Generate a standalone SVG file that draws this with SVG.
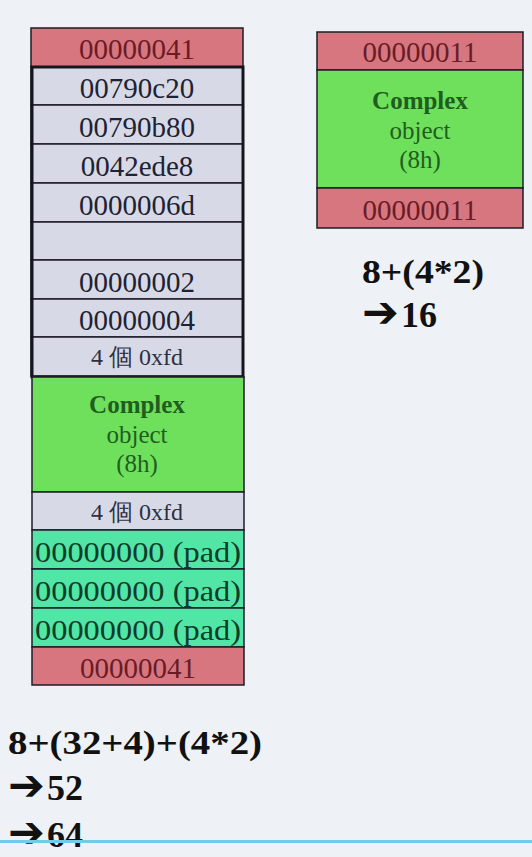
<svg xmlns="http://www.w3.org/2000/svg" width="532" height="857" viewBox="0 0 532 857">
<style>
.cell{stroke:#1c1c28;stroke-width:1.5}
.red{fill:#d8767f}
.lav{fill:#d7dae6}
.grn{fill:#6fe05c}
.pad{fill:#52e6a6}
.t{font-family:"Liberation Serif","Times New Roman",serif;text-anchor:middle}
.tr{fill:#6a1c26;font-size:29px}
.tl{fill:#1f2233;font-size:29px}
.tg{fill:#1f5e1f;font-size:25px}
.tp{fill:#103c2a;font-size:29px}
.sm{fill:#2e3040;font-size:24px}
.calc{font-family:"Liberation Serif","Times New Roman",serif;font-weight:bold;fill:#111;font-size:33px}
.arr{font-family:"DejaVu Sans",sans-serif;font-weight:bold}
</style>
<rect x="0" y="0" width="532" height="857" fill="#eef1f6"/>

<g id="left-column">
<g id="l-head"><rect class="cell red" x="31" y="28" width="212" height="39"/><text class="t tr" x="137" y="59">00000041</text></g>
<g id="l-r1"><rect class="cell lav" x="31" y="67" width="212" height="38"/><text class="t tl" x="137" y="98">00790c20</text></g>
<g id="l-r2"><rect class="cell lav" x="31" y="105" width="212" height="39"/><text class="t tl" x="137" y="137">00790b80</text></g>
<g id="l-r3"><rect class="cell lav" x="31" y="144" width="212" height="39"/><text class="t tl" x="137" y="176">0042ede8</text></g>
<g id="l-r4"><rect class="cell lav" x="31" y="183" width="212" height="39"/><text class="t tl" x="137" y="215">0000006d</text></g>
<g id="l-r5"><rect class="cell lav" x="31" y="222" width="212" height="38"/></g>
<g id="l-r6"><rect class="cell lav" x="31" y="260" width="212" height="39"/><text class="t tl" x="137" y="292">00000002</text></g>
<g id="l-r7"><rect class="cell lav" x="31" y="299" width="212" height="38"/><text class="t tl" x="137" y="330">00000004</text></g>
<g id="l-r8"><rect class="cell lav" x="31" y="337" width="212" height="39"/><text class="t sm" x="137" y="365">4 個 0xfd</text></g>
<rect id="l-frame" x="32" y="67" width="211" height="310" fill="none" stroke="#15151f" stroke-width="3"/>
<g id="l-obj"><rect class="cell grn" x="32" y="377" width="212" height="115"/>
<text class="t tg" x="137" y="413" font-weight="bold">Complex</text>
<text class="t tg" x="137" y="443">object</text>
<text class="t tg" x="137" y="472">(8h)</text></g>
<g id="l-r9"><rect class="cell lav" x="32" y="492" width="212" height="38"/><text class="t sm" x="137" y="520">4 個 0xfd</text></g>
<g id="l-p1"><rect class="cell pad" x="32" y="530" width="212" height="39"/><text class="t tp" x="138" y="562" textLength="206" lengthAdjust="spacingAndGlyphs">00000000 (pad)</text></g>
<g id="l-p2"><rect class="cell pad" x="32" y="569" width="212" height="39"/><text class="t tp" x="138" y="601" textLength="206" lengthAdjust="spacingAndGlyphs">00000000 (pad)</text></g>
<g id="l-p3"><rect class="cell pad" x="32" y="608" width="212" height="39"/><text class="t tp" x="138" y="640" textLength="206" lengthAdjust="spacingAndGlyphs">00000000 (pad)</text></g>
<g id="l-foot"><rect class="cell red" x="32" y="647" width="212" height="38"/><text class="t tr" x="138" y="678">00000041</text></g>
</g>

<g id="right-column">
<g id="r-head"><rect class="cell red" x="317" y="32" width="206" height="38"/><text class="t tr" x="420" y="62">00000011</text></g>
<g id="r-obj"><rect class="cell grn" x="317" y="70" width="206" height="118"/>
<text class="t tg" x="420" y="109" font-weight="bold">Complex</text>
<text class="t tg" x="420" y="139">object</text>
<text class="t tg" x="420" y="168">(8h)</text></g>
<g id="r-foot"><rect class="cell red" x="317" y="188" width="206" height="40"/><text class="t tr" x="420" y="220">00000011</text></g>
</g>

<g id="calc-right">
<text class="calc" x="362" y="283" textLength="122" lengthAdjust="spacingAndGlyphs">8+(4*2)</text>
<text class="calc" x="362" y="327"><tspan class="arr" font-size="44">➔</tspan><tspan dx="2" font-size="36">16</tspan></text>
</g>

<g id="calc-left">
<text class="calc" x="8" y="754" textLength="254" lengthAdjust="spacingAndGlyphs">8+(32+4)+(4*2)</text>
<text class="calc" x="8" y="800"><tspan class="arr" font-size="44">➔</tspan><tspan dx="2" font-size="36">52</tspan></text>
<text class="calc" x="8" y="847"><tspan class="arr" font-size="44">➔</tspan><tspan dx="2" font-size="36">64</tspan></text>
</g>

<rect id="blue-line" x="0" y="840" width="532" height="3" fill="#74c9ec"/>
</svg>
